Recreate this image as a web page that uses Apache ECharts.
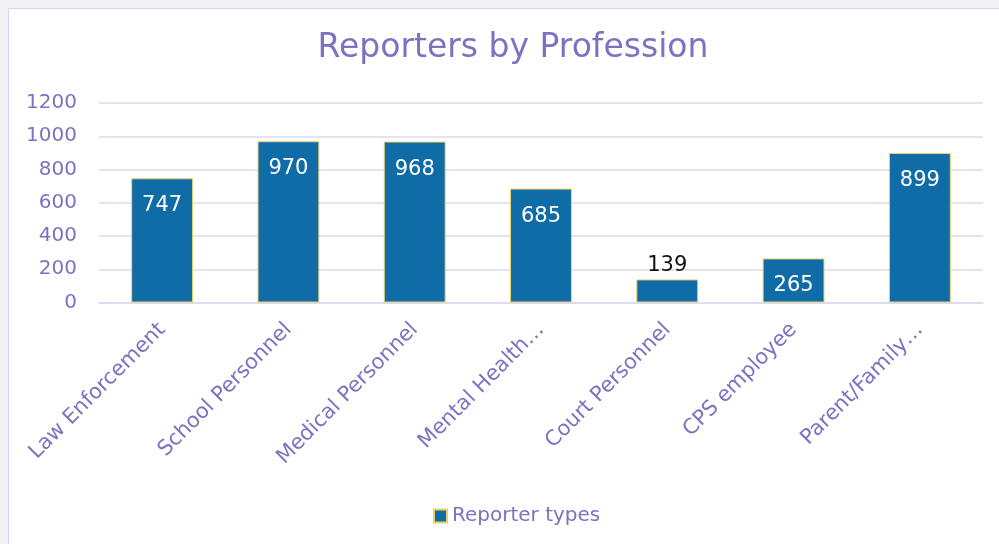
<!DOCTYPE html>
<html>
<head>
<meta charset="utf-8">
<script src="https://cdn.jsdelivr.net/npm/echarts@6/dist/echarts.min.js"></script>
<style>
html,body{margin:0;padding:0;background:#f2f2f4;}
#c{width:999px;height:544px;}
</style>
</head>
<body>
<div id="c"></div>
<script>
const categories = ['Law Enforcement','School Personnel','Medical Personnel','Mental Health…','Court Personnel','CPS employee','Parent/Family…'];
const values = [747, 970, 968, 685, 139, 265, 899];
const seriesName = 'Reporter types';
const yTicks = {min: 0, max: 1200, interval: 200};

const FONT = 'DejaVu Sans';
const TXT = '#7b72c2';
const chart = echarts.init(document.getElementById('c'));
chart.setOption({
  backgroundColor: '#f2f2f4',
  animation: false,
  graphic: [{
    type: 'rect', z: -10, silent: true,
    shape: {x: 8.5, y: 8.5, width: 1000, height: 540},
    style: {fill: '#ffffff', stroke: '#d6d2ef', lineWidth: 1}
  }],
  title: {
    text: 'Reporters by Profession',
    left: 508, textAlign: 'center', top: 27,
    textStyle: {fontFamily: FONT, fontSize: 33, fontWeight: 'normal', color: TXT}
  },
  legend: {
    data: [{name: seriesName, icon: 'rect'}],
    left: 428, top: 501,
    itemWidth: 13, itemHeight: 13, itemGap: 10,
    textStyle: {fontFamily: FONT, fontSize: 20, color: TXT}
  },
  grid: {left: 99, right: 16, top: 103, bottom: 241.5, containLabel: false},
  xAxis: {
    type: 'category',
    data: categories,
    axisLine: {lineStyle: {color: '#dcd8f0', width: 1.5}},
    axisTick: {show: false},
    axisLabel: {rotate: 45, margin: 24, interval: 0, fontFamily: FONT, fontSize: 21, color: TXT}
  },
  yAxis: {
    type: 'value',
    min: yTicks.min, max: yTicks.max, interval: yTicks.interval,
    axisLine: {show: false},
    axisTick: {show: false},
    splitLine: {lineStyle: {color: '#dcd8f0', width: 1.5}},
    axisLabel: {margin: 22, fontFamily: FONT, fontSize: 20, color: TXT, formatter: v => String(v)}
  },
  series: [{
    name: seriesName,
    type: 'bar',
    barCategoryGap: '51%',
    data: values.map(v => v < 200
      ? {value: v, label: {position: 'top', distance: 3, color: '#111111'}}
      : v),
    itemStyle: {color: '#0f6ca6', borderColor: '#ecd06a', borderWidth: 1},
    label: {
      show: true, position: 'insideTop', distance: 17,
      fontFamily: FONT, fontSize: 21, color: '#ffffff'
    }
  }]
});
</script>
</body>
</html>
